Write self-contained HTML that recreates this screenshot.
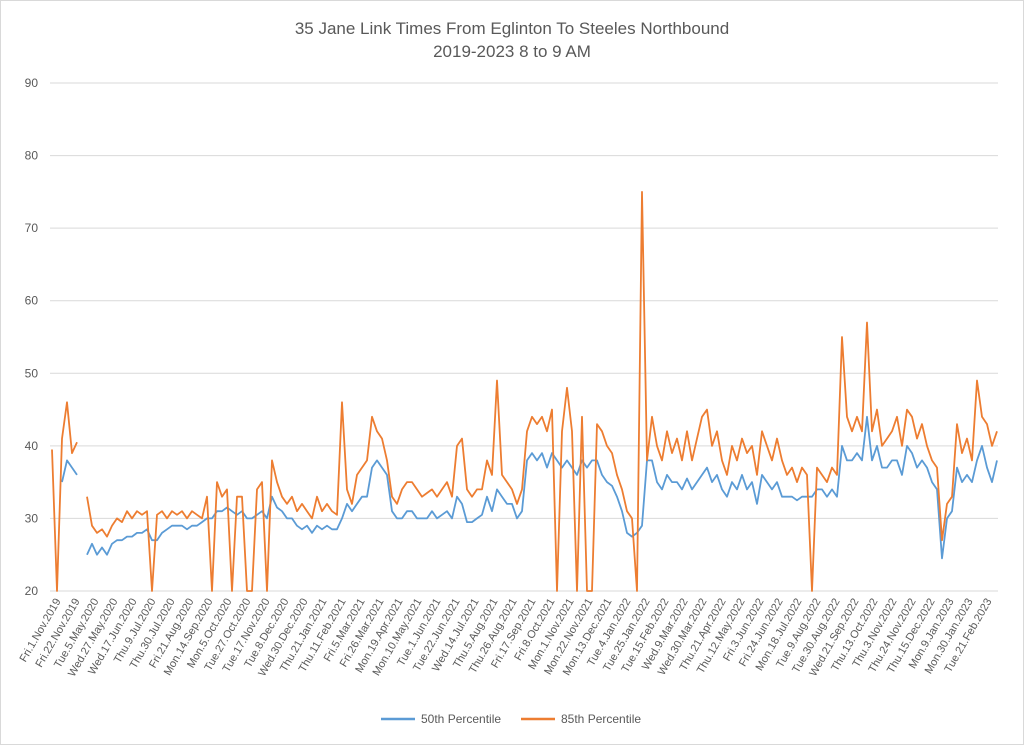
<!DOCTYPE html>
<html><head><meta charset="utf-8"><style>
body{margin:0;background:#fff;}
svg{display:block;font-family:"Liberation Sans",Arial,sans-serif;}
</style></head><body>
<svg id="chart" width="1024" height="745" viewBox="0 0 1024 745">
<rect x="0.5" y="0.5" width="1023" height="744" fill="#fff" stroke="#d9d9d9"/>
<text x="512" y="34" text-anchor="middle" font-size="17" fill="#595959">35 Jane Link Times From Eglinton To Steeles Northbound</text>
<text x="512" y="57" text-anchor="middle" font-size="17" fill="#595959">2019-2023 8 to 9 AM</text>
<g id="grid"></g>
<g id="yticks"></g>
<g id="xticks"></g>
<g id="series"></g>
<g>
<g><line x1="381" y1="719" x2="415" y2="719" stroke="#5b9bd5" stroke-width="2.5"/><text x="421" y="723" font-size="12" fill="#595959">50th Percentile</text></g>
<g><line x1="521" y1="719" x2="555" y2="719" stroke="#ed7d31" stroke-width="2.5"/><text x="561" y="723" font-size="12" fill="#595959">85th Percentile</text></g>
</g>
</svg>
<script>
const yTicks=[20,30,40,50,60,70,80,90];
const xLabels=["Fri.1.Nov.2019","Fri.22.Nov.2019","Tue.5.May.2020","Wed.27.May.2020","Wed.17.Jun.2020","Thu.9.Jul.2020","Thu.30.Jul.2020","Fri.21.Aug.2020","Mon.14.Sep.2020","Mon.5.Oct.2020","Tue.27.Oct.2020","Tue.17.Nov.2020","Tue.8.Dec.2020","Wed.30.Dec.2020","Thu.21.Jan.2021","Thu.11.Feb.2021","Fri.5.Mar.2021","Fri.26.Mar.2021","Mon.19.Apr.2021","Mon.10.May.2021","Tue.1.Jun.2021","Tue.22.Jun.2021","Wed.14.Jul.2021","Thu.5.Aug.2021","Thu.26.Aug.2021","Fri.17.Sep.2021","Fri.8.Oct.2021","Mon.1.Nov.2021","Mon.22.Nov.2021","Mon.13.Dec.2021","Tue.4.Jan.2022","Tue.25.Jan.2022","Tue.15.Feb.2022","Wed.9.Mar.2022","Wed.30.Mar.2022","Thu.21.Apr.2022","Thu.12.May.2022","Fri.3.Jun.2022","Fri.24.Jun.2022","Mon.18.Jul.2022","Tue.9.Aug.2022","Tue.30.Aug.2022","Wed.21.Sep.2022","Thu.13.Oct.2022","Thu.3.Nov.2022","Thu.24.Nov.2022","Thu.15.Dec.2022","Mon.9.Jan.2023","Mon.30.Jan.2023","Tue.21.Feb.2023"];
const p85=[39.5,20,41,46,39,40.5,null,33,29,28,28.5,27.5,29,30,29.5,31,30,31,30.5,31,20,30.5,31,30,31,30.5,31,30,31,30.5,30,33,20,35,33,34,20,33,33,20,20,34,35,20,38,35,33,32,
33,31,32,31,30,33,31,32,31,30.5,46,34,32,36,37,38,44,42,41,38,33,32,34,35,35,34,33,33.5,34,33,34,35,33,40,41,34,33,34,34,38,36,49,36,35,34,32,34,42,44,43,
44,42,45,20,42,48,42,20,44,20,20,43,42,40,39,36,34,31,30,20,75,38,44,40,38,42,39,41,38,42,38,41,44,45,40,42,38,36,40,38,41,39,40,36,
42,40,38,41,38,36,37,35,37,36,20,37,36,35,37,36,55,44,42,44,42,57,42,45,40,41,42,44,40,45,44,41,43,40,38,37,27,32,33,43,39,41,38,49,44,43,40,42];
const p50=[null,null,35,38,37,36,null,25,26.5,25,26,25,26.5,27,27,27.5,27.5,28,28,28.5,27,27,28,28.5,29,29,29,28.5,29,29,29.5,30,30,31,31,31.5,31,30.5,31,30,30,30.5,31,30,33,31.5,31,30,
30,29,28.5,29,28,29,28.5,29,28.5,28.5,30,32,31,32,33,33,37,38,37,36,31,30,30,31,31,30,30,30,31,30,30.5,31,30,33,32,29.5,29.5,30,30.5,33,31,34,33,32,32,30,31,38,39,38,
39,37,39,38,37,38,37,36,38,37,38,38,36,35,34.5,33,31,28,27.5,28,29,38,38,35,34,36,35,35,34,35.5,34,35,36,37,35,36,34,33,35,34,36,34,35,32,
36,35,34,35,33,33,33,32.5,33,33,33,34,34,33,34,33,40,38,38,39,38,44,38,40,37,37,38,38,36,40,39,37,38,37,35,34,24.5,30,31,37,35,36,35,38,40,37,35,38];
const NS="http://www.w3.org/2000/svg";
const X0=52,X1=997,Y20=591,Y90=83;
const yScale=v=>Y20-(v-20)*(Y20-Y90)/70;
const xScale=i=>X0+i*(X1-X0)/(p85.length-1);
const labelX=i=>61+i*(992-61)/(xLabels.length-1);
const grid=document.getElementById('grid'),yt=document.getElementById('yticks'),xt=document.getElementById('xticks'),ser=document.getElementById('series');
yTicks.forEach(t=>{
 const l=document.createElementNS(NS,'line');
 l.setAttribute('x1',50);l.setAttribute('x2',998);l.setAttribute('y1',yScale(t));l.setAttribute('y2',yScale(t));
 l.setAttribute('stroke','#d9d9d9');l.setAttribute('stroke-width','1');
 
 
 grid.appendChild(l);
 const tx=document.createElementNS(NS,'text');
 tx.setAttribute('x',38);tx.setAttribute('y',yScale(t)+4);tx.setAttribute('text-anchor','end');
 tx.setAttribute('font-size','12');tx.setAttribute('fill','#595959');tx.textContent=t;
 
 
 yt.appendChild(tx);
});
xLabels.forEach((s,i)=>{
 const tx=document.createElementNS(NS,'text');
 const x=labelX(i),y=601;
 tx.setAttribute('x',x);tx.setAttribute('y',y);tx.setAttribute('text-anchor','end');
 tx.setAttribute('font-size','11');tx.setAttribute('fill','#595959');
 tx.setAttribute('transform','rotate(-60 '+x+' '+y+')');
 tx.textContent=s;
 
 
 xt.appendChild(tx);
});
function pathFor(arr){
 let d='',pen=false;
 arr.forEach((v,i)=>{
  if(v===null){pen=false;return;}
  d+=(pen?'L':'M')+xScale(i).toFixed(1)+' '+yScale(v).toFixed(1)+' ';pen=true;
 });
 return d;
}
[[p50,'#5b9bd5','series-50th-percentile'],[p85,'#ed7d31','series-85th-percentile']].forEach(([arr,c,n])=>{
 const p=document.createElementNS(NS,'path');
 p.setAttribute('d',pathFor(arr));p.setAttribute('fill','none');p.setAttribute('stroke',c);
 p.setAttribute('stroke-width','1.8');p.setAttribute('stroke-linejoin','round');
 
 
 ser.appendChild(p);
});
</script>
</body></html>
